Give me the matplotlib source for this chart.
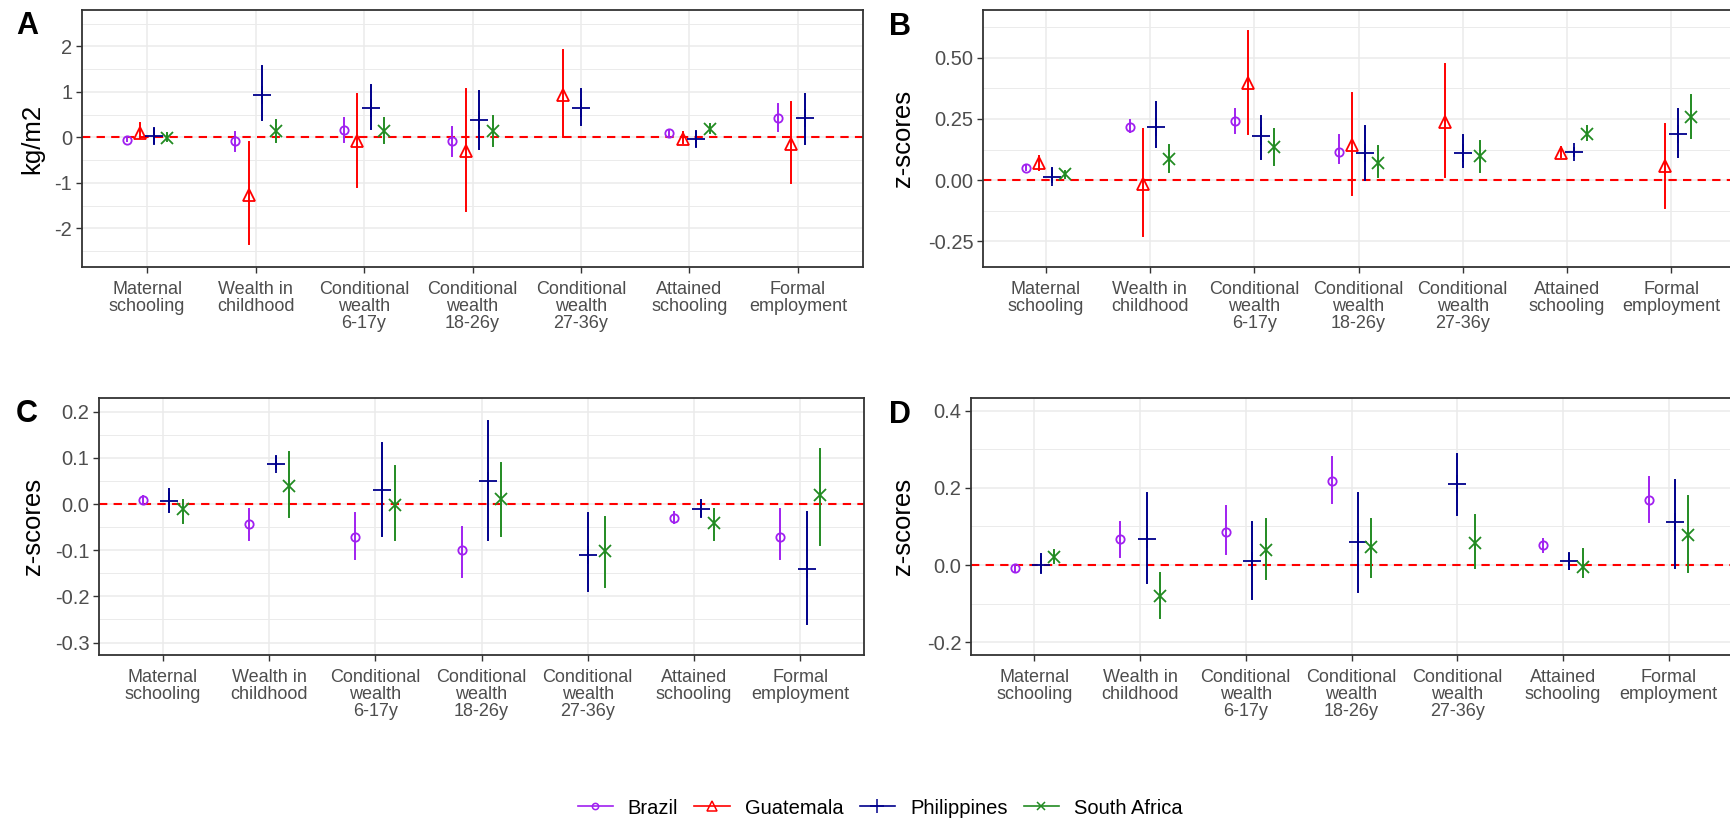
import numpy as np
import matplotlib
matplotlib.use("Agg")
import matplotlib.pyplot as plt
from matplotlib.lines import Line2D
from matplotlib.ticker import FixedLocator

plt.rcParams['font.family'] = ['Liberation Sans', 'DejaVu Sans']
plt.rcParams['axes.unicode_minus'] = False

nan = np.nan

categories = ["Maternal\nschooling", "Wealth in\nchildhood", "Conditional\nwealth\n6-17y",
              "Conditional\nwealth\n18-26y", "Conditional\nwealth\n27-36y",
              "Attained\nschooling", "Formal\nemployment"]
countries = ["Brazil", "Guatemala", "Philippines", "South Africa"]

# Panel A (kg/m2) - rows: Brazil, Guatemala, Philippines, South Africa
A_est = [[-0.05, -0.07, 0.16, -0.09, nan, 0.09, 0.43],
         [0.09, -1.26, -0.09, -0.31, 0.94, -0.04, -0.14],
         [0.03, 0.94, 0.64, 0.38, 0.64, -0.04, 0.42],
         [-0.02, 0.14, 0.14, 0.14, nan, 0.19, nan]]
A_lo = [[-0.09, -0.29, -0.11, -0.40, nan, 0.00, 0.14],
        [-0.02, -2.34, -1.09, -1.61, 0.00, -0.13, -1.01],
        [-0.13, 0.39, 0.19, -0.25, 0.27, -0.20, -0.14],
        [-0.09, -0.11, -0.13, -0.19, nan, 0.09, nan]]
A_hi = [[-0.01, 0.12, 0.43, 0.23, nan, 0.17, 0.73],
        [0.31, -0.11, 0.96, 1.07, 1.91, 0.12, 0.78],
        [0.19, 1.56, 1.16, 1.03, 1.07, 0.12, 0.96],
        [0.09, 0.39, 0.43, 0.48, nan, 0.30, nan]]

# Panel B (z-scores)
B_est = [[0.05, 0.217, 0.242, 0.115, nan, nan, nan],
         [0.068, -0.014, 0.397, 0.145, 0.238, 0.111, 0.058],
         [0.014, 0.217, 0.18, 0.109, 0.109, 0.115, 0.188],
         [0.024, 0.088, 0.136, 0.07, 0.10, 0.188, 0.258]]
B_lo = [[0.04, 0.197, 0.193, 0.068, nan, nan, nan],
        [0.043, -0.228, 0.19, -0.061, 0.014, 0.095, -0.115],
        [-0.007, 0.136, 0.088, 0.0, 0.054, 0.10, 0.095],
        [0.01, 0.034, 0.061, 0.014, 0.034, 0.163, 0.17]]
B_hi = [[0.06, 0.245, 0.292, 0.183, nan, nan, nan],
        [0.098, 0.21, 0.609, 0.356, 0.473, 0.136, 0.228],
        [0.048, 0.32, 0.262, 0.22, 0.183, 0.13, 0.292],
        [0.038, 0.145, 0.21, 0.139, 0.16, 0.22, 0.349]]

# Panel C (z-scores)
C_est = [[0.0086, -0.042, -0.072, -0.099, nan, -0.029, -0.072],
         [nan] * 7,
         [0.0065, 0.0875, 0.03, 0.0495, -0.11, -0.0115, -0.14],
         [-0.01, 0.039, -0.001, 0.0115, -0.101, -0.04, 0.0194]]
C_lo = [[0.001, -0.078, -0.119, -0.157, nan, -0.04, -0.119],
        [nan] * 7,
        [-0.016, 0.076, -0.07, -0.078, -0.189, -0.026, -0.26],
        [-0.04, -0.028, -0.078, -0.07, -0.18, -0.077, -0.089]]
C_hi = [[0.017, -0.01, -0.019, -0.049, nan, -0.017, -0.01],
        [nan] * 7,
        [0.033, 0.103, 0.132, 0.181, -0.019, 0.008, -0.017],
        [0.01, 0.113, 0.082, 0.089, -0.028, -0.01, 0.12]]

# Panel D (z-scores)
D_est = [[-0.0085, 0.068, 0.087, 0.218, nan, 0.051, 0.168],
         [nan] * 7,
         [0.0, 0.068, 0.01, 0.06, 0.209, 0.01, 0.111],
         [0.021, -0.079, 0.038, 0.047, 0.056, -0.004, 0.079]]
D_lo = [[-0.017, 0.021, 0.03, 0.161, nan, 0.034, 0.111],
        [nan] * 7,
        [-0.019, -0.047, -0.088, -0.07, 0.131, -0.011, -0.0085],
        [0.006, -0.137, -0.037, -0.03, -0.0085, -0.03, -0.019]]
D_hi = [[-0.003, 0.111, 0.152, 0.279, nan, 0.068, 0.228],
        [nan] * 7,
        [0.028, 0.188, 0.111, 0.188, 0.288, 0.028, 0.22],
        [0.04, -0.021, 0.12, 0.12, 0.13, 0.041, 0.18]]

colors = ["#A020F0", "#FF0000", "#00008B", "#228B22"]
markers = ["o", "^", "+", "x"]
msizes = [6, 9, 13, 8]

W, H = 1730, 822
fig = plt.figure(figsize=(W / 100, H / 100), dpi=100)


def box(l, t, r, b):
    return [l / W, 1 - b / H, (r - l) / W, (b - t) / H]


# countries taking part in dodging at each category (Brazil has no 27-36y data)
def slots(ci):
    if ci == 4:
        return [1, 2, 3]
    return [0, 1, 2, 3]


def panel(rect, est, lo, hi, ylim, ticks, minor, fmt, ylab, letter, lab_x, letter_xy):
    ax = fig.add_axes(rect)
    x = np.arange(len(categories))
    for k in range(4):
        for ci in x:
            s = slots(ci)
            if k not in s or np.isnan(est[k][ci]):
                continue
            off = (s.index(k) - (len(s) - 1) / 2) * 0.5 / len(s)
            ax.plot([ci + off, ci + off], [lo[k][ci], hi[k][ci]], color=colors[k], lw=1.4, zorder=3)
            ax.plot(ci + off, est[k][ci], marker=markers[k], ms=msizes[k], mfc='none',
                    mec=colors[k], mew=1.3, ls='none', zorder=4)
    ax.axhline(0, color='#FF0000', ls=(0, (4, 3)), lw=1.5, zorder=2)
    ax.set_xlim(-0.6, len(categories) - 0.4)
    ax.set_ylim(*ylim)
    ax.set_xticks(x)
    ax.set_xticklabels(categories, fontsize=13, color='#4D4D4D', linespacing=1.0)
    ax.set_yticks(ticks)
    ax.set_yticklabels([fmt.format(t) for t in ticks], fontsize=14.5, color='#4D4D4D')
    ax.yaxis.set_minor_locator(FixedLocator(minor))
    ax.grid(True, which='major', color='#EBEBEB', lw=1.1, zorder=0)
    ax.grid(True, which='minor', axis='y', color='#EBEBEB', lw=0.7, zorder=0)
    ax.set_axisbelow(True)
    ax.tick_params(axis='both', which='major', length=4, width=1, color='#333333')
    ax.tick_params(axis='x', pad=6)
    ax.tick_params(axis='y', pad=3)
    ax.tick_params(which='minor', length=0)
    for sp in ax.spines.values():
        sp.set_color('#333333')
        sp.set_linewidth(1.3)
    yc = 1 - (rect[1] + rect[3] / 2)
    fig.text(lab_x / W, 1 - yc, ylab, rotation=90, ha='center', va='center', fontsize=18.5)
    fig.text(letter_xy[0] / W, 1 - letter_xy[1] / H, letter, ha='center', va='center',
             fontsize=22, fontweight='bold')
    return ax


panel(box(82, 10, 863, 267), A_est, A_lo, A_hi, (-2.85, 2.8), [-2, -1, 0, 1, 2],
      [-2.5, -1.5, -0.5, 0.5, 1.5, 2.5], "{:g}", "kg/m2", "A", 32, (27, 26))
panel(box(983, 10, 1734, 267), B_est, B_lo, B_hi, (-0.355, 0.695), [-0.25, 0.0, 0.25, 0.5],
      [-0.125, 0.125, 0.375, 0.625], "{:.2f}", "z-scores", "B", 903, (900, 27))
panel(box(99, 398, 864, 655), C_est, C_lo, C_hi, (-0.327, 0.23),
      [-0.3, -0.2, -0.1, 0.0, 0.1, 0.2], [-0.25, -0.15, -0.05, 0.05, 0.15],
      "{:.1f}", "z-scores", "C", 33, (27, 414))
panel(box(971, 398, 1732, 655), D_est, D_lo, D_hi, (-0.233, 0.433), [-0.2, 0.0, 0.2, 0.4],
      [-0.1, 0.1, 0.3], "{:.1f}", "z-scores", "D", 903, (900, 415))

handles = [Line2D([0], [0], color=colors[k], marker=markers[k], ms=msizes[k] * 0.75, mfc='none',
                  mec=colors[k], mew=1.1, lw=1.2) for k in range(4)]
fig.legend(handles, countries, loc='center', bbox_to_anchor=(880 / W, 1 - 808 / H), ncol=4,
           frameon=False, fontsize=14.5, handlelength=1.75, handletextpad=0.75,
           columnspacing=0.8)

fig.savefig("out.png", dpi=100)
